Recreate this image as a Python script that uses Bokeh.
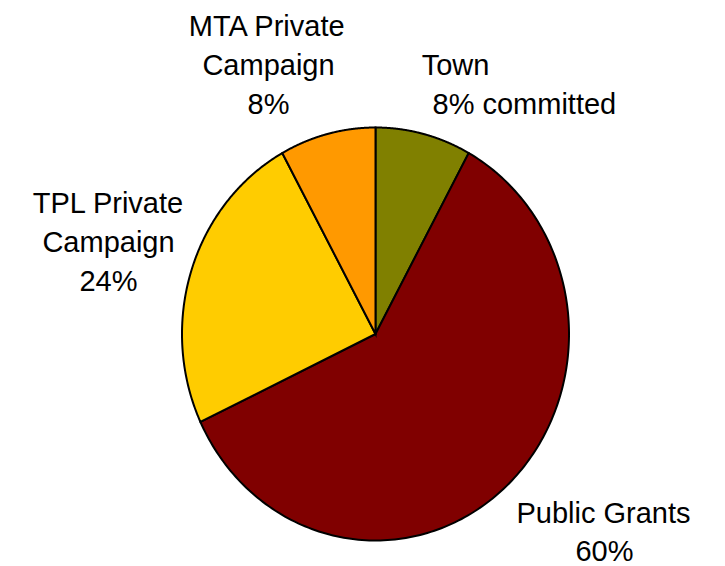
import numpy as np
from bokeh.plotting import figure
from bokeh.models import Range1d, ColumnDataSource
from bokeh.core.properties import value
from bokeh.embed import file_html
from bokeh.resources import INLINE

# ---- data ----
categories = ["Town", "Public Grants", "TPL Private Campaign", "MTA Private Campaign"]
percents = [8, 60, 24, 8]
colors = ["#808000", "#800000", "#FFCC00", "#FF9900"]

label_lines = [
    ["Town", f"{percents[0]}% committed"],
    ["Public Grants", f"{percents[1]}%"],
    ["TPL Private", "Campaign", f"{percents[2]}%"],
    ["MTA Private", "Campaign", f"{percents[3]}%"],
]

# ---- layout (picture pixels) ----
W, H = 709, 566
CX, CY = 375.0, 333.5      # pie centre
RX, RY = 193.5, 206.5      # pie radii (slightly elliptic)
TEXT_SHIFT = -10           # renderer places alphabetic baseline lower

# label placement: (x, baseline y, align) per line
label_pos = [
    [(455, 74, "center"), (432, 113, "left")],
    [(603, 522, "center"), (604, 560, "center")],
    [(108, 212, "center"), (108, 251, "center"), (108, 290, "center")],
    [(267, 35, "center"), (268, 74, "center"), (268, 113, "center")],
]

def dx(px):
    return (px - CX) / RX

def dy(py):
    return (CY - py) / RY

p = figure(width=W, height=H, output_backend="svg", toolbar_location=None,
           x_range=Range1d(dx(0), dx(W)), y_range=Range1d(dy(H), dy(0)),
           min_border=0)
p.axis.visible = False
p.grid.visible = False
p.outline_line_color = None
p.background_fill_color = "white"
p.border_fill_color = "white"

# ---- slices (angles clockwise from 12 o'clock) ----
total = float(sum(percents))
cum = np.concatenate([[0.0], np.cumsum(percents)]) / total * 2 * np.pi
xs, ys = [], []
for i in range(len(percents)):
    t = np.linspace(cum[i], cum[i + 1], 200)
    xs.append(list(np.concatenate([[0.0], np.sin(t), [0.0]])))
    ys.append(list(np.concatenate([[0.0], np.cos(t), [0.0]])))

src = ColumnDataSource(dict(xs=xs, ys=ys, color=colors, cat=categories))
p.patches("xs", "ys", source=src, fill_color="color", line_color="black",
          line_width=2, line_join="miter")

# ---- labels ----
for lines, poss in zip(label_lines, label_pos):
    for txt, (x, y, al) in zip(lines, poss):
        p.text(x=[dx(x)], y=[dy(y + TEXT_SHIFT)], text=[txt],
               text_font=value("Liberation Sans"), text_font_size="29px",
               text_color="black", text_align=al, text_baseline="alphabetic")

open("out.html", "w").write(file_html(p, INLINE))
